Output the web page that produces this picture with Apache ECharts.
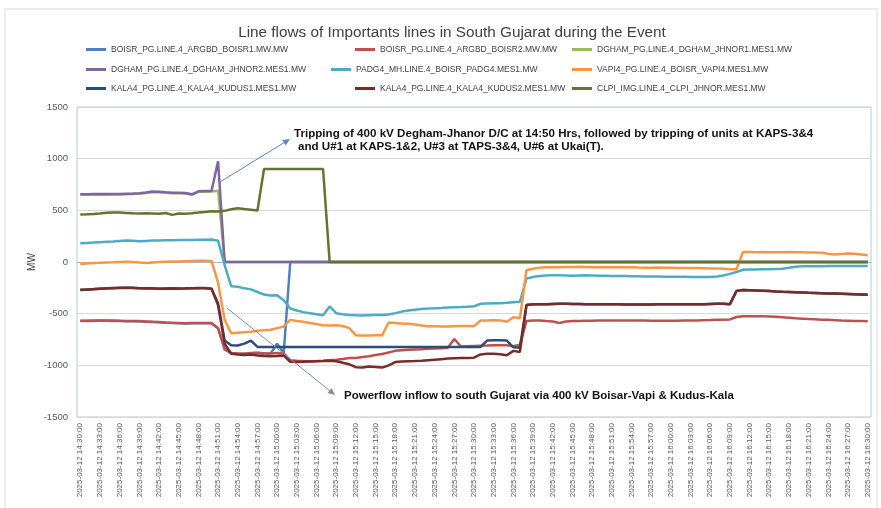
<!DOCTYPE html>
<html>
<head>
<meta charset="utf-8">
<script src="https://cdn.jsdelivr.net/npm/echarts@6/dist/echarts.min.js"></script>
<style>html,body{margin:0;padding:0;background:#fff}#c{width:881px;height:508px}</style>
</head>
<body>
<div id="c"></div>
<script>
// ---- categories (one per minute, 14:30 to 16:30) ----
const startHour = 14, startMinute = 30, minuteCount = 121;
const categories = [];
for (let i = 0; i < minuteCount; i++) {
  const t = startHour * 60 + startMinute + i;
  const h = Math.floor(t / 60), m = t % 60;
  categories.push('2025-03-12 ' + h + ':' + String(m).padStart(2, '0') + ':00');
}

const seriesNames = [
  'BOISR_PG.LINE.4_ARGBD_BOISR1.MW.MW',
  'BOISR_PG.LINE.4_ARGBD_BOISR2.MW.MW',
  'DGHAM_PG.LINE.4_DGHAM_JHNOR1.MES1.MW',
  'DGHAM_PG.LINE.4_DGHAM_JHNOR2.MES1.MW',
  'PADG4_MH.LINE.4_BOISR_PADG4.MES1.MW',
  'VAPI4_PG.LINE.4_BOISR_VAPI4.MES1.MW',
  'KALA4_PG.LINE.4_KALA4_KUDUS1.MES1.MW',
  'KALA4_PG.LINE.4_KALA4_KUDUS2.MES1.MW',
  'CLPI_IMG.LINE.4_CLPI_JHNOR.MES1.MW'
];

const boisr1 = [
  -572,-572,-570,-568,-568,-570,-572,-573,-574,-575,
  -578,-580,-583,-588,-590,-592,-594,-593,-592,-592,
  -592,-645,-845,-882,-886,-888,-882,-880,-884,-885,
  -790,-880,0,0,0,0,0,0,0,0,
  0,0,0,0,0,0,0,0,0,0,
  0,0,0,0,0,0,0,0,0,0,
  0,0,0,0,0,0,0,0,0,0,
  0,0,0,0,0,0,0,0,0,0,
  0,0,0,0,0,0,0,0,0,0,
  0,0,0,0,0,0,0,0,0,0,
  0,0,0,0,0,0,0,0,0,0,
  0,0,0,0,0,0,0,0,0,0,
  0
];
const boisr2 = [
  -568,-568,-566,-565,-565,-566,-568,-570,-570,-572,
  -575,-578,-580,-585,-588,-590,-592,-590,-590,-590,
  -590,-640,-840,-880,-885,-888,-880,-878,-885,-885,
  -880,-885,-950,-955,-958,-960,-958,-955,-950,-945,
  -938,-930,-928,-920,-912,-900,-890,-875,-860,-855,
  -850,-847,-845,-840,-838,-835,-830,-745,-818,-815,
  -812,-810,-808,-805,-805,-806,-815,-800,-570,-565,
  -565,-572,-575,-590,-575,-572,-570,-568,-568,-567,
  -566,-566,-565,-565,-566,-566,-567,-568,-568,-568,
  -568,-568,-567,-566,-565,-563,-562,-560,-558,-556,
  -532,-526,-525,-525,-526,-527,-530,-535,-540,-545,
  -548,-552,-555,-558,-560,-563,-566,-568,-570,-572,
  -574
];
const dgham1 = [
  650,650,652,653,652,654,653,655,657,660,
  667,676,675,669,665,666,663,650,679,681,
  683,690,0,0,0,0,0,0,0,0,
  0,0,0,0,0,0,0,0,0,0,
  0,0,0,0,0,0,0,0,0,0,
  0,0,0,0,0,0,0,0,0,0,
  0,0,0,0,0,0,0,0,0,0,
  0,0,0,0,0,0,0,0,0,0,
  0,0,0,0,0,0,0,0,0,0,
  0,0,0,0,0,0,0,0,0,0,
  0,0,0,0,0,0,0,0,0,0,
  0,0,0,0,0,0,0,0,0,0,
  0
];
const dgham2 = [
  656,655,657,658,657,659,658,660,662,665,
  672,682,680,674,670,671,668,655,684,686,
  688,975,0,0,0,0,0,0,0,0,
  0,0,0,0,0,0,0,0,0,0,
  0,0,0,0,0,0,0,0,0,0,
  0,0,0,0,0,0,0,0,0,0,
  0,0,0,0,0,0,0,0,0,0,
  0,0,0,0,0,0,0,0,0,0,
  0,0,0,0,0,0,0,0,0,0,
  0,0,0,0,0,0,0,0,0,0,
  0,0,0,0,0,0,0,0,0,0,
  0,0,0,0,0,0,0,0,0,0,
  0
];
const padg4 = [
  182,185,188,192,195,198,203,207,205,200,
  204,207,208,210,210,212,213,214,215,216,
  217,205,-30,-235,-240,-255,-265,-290,-315,-325,
  -322,-370,-450,-470,-485,-495,-505,-515,-430,-495,
  -505,-512,-516,-518,-516,-514,-512,-508,-495,-480,
  -470,-462,-455,-450,-448,-445,-440,-437,-435,-432,
  -428,-405,-402,-400,-398,-395,-390,-385,-160,-145,
  -135,-130,-128,-128,-130,-132,-130,-128,-130,-132,
  -133,-135,-135,-136,-138,-138,-140,-140,-140,-142,
  -142,-143,-143,-144,-145,-145,-145,-140,-130,-115,
  -97,-75,-72,-72,-70,-70,-68,-65,-55,-45,
  -42,-40,-40,-40,-39,-39,-38,-38,-38,-38,
  -38
];
const vapi4 = [
  -20,-15,-10,-8,-5,-3,0,2,0,-5,
  -10,-5,0,3,5,6,8,10,12,12,
  10,-200,-560,-690,-685,-680,-675,-665,-660,-655,
  -640,-625,-560,-570,-578,-590,-600,-612,-615,-613,
  -620,-640,-710,-712,-712,-710,-710,-585,-590,-595,
  -597,-605,-615,-622,-622,-624,-625,-622,-620,-620,
  -622,-566,-565,-563,-565,-578,-535,-545,-80,-65,
  -55,-52,-50,-50,-48,-48,-47,-48,-50,-50,
  -52,-52,-50,-50,-52,-54,-55,-55,-54,-55,
  -56,-58,-58,-57,-58,-60,-62,-64,-66,-70,
  -70,97,96,95,96,95,94,95,96,95,
  94,93,92,90,80,72,78,82,80,72,
  65
];
const kudus1 = [
  -270,-268,-264,-260,-257,-254,-252,-250,-252,-255,
  -257,-257,-260,-258,-256,-258,-257,-255,-254,-254,
  -260,-400,-760,-805,-808,-790,-760,-822,-822,-822,
  -822,-822,-822,-822,-822,-822,-822,-822,-822,-822,
  -822,-822,-822,-822,-822,-822,-822,-822,-822,-822,
  -822,-822,-822,-822,-822,-822,-822,-822,-822,-822,
  -822,-822,-760,-758,-758,-760,-825,-830,-415,-410,
  -408,-408,-406,-405,-405,-406,-407,-408,-408,-409,
  -410,-410,-410,-411,-412,-412,-412,-411,-410,-410,
  -410,-410,-410,-408,-408,-408,-406,-405,-405,-408,
  -280,-272,-274,-276,-278,-280,-285,-288,-290,-292,
  -295,-298,-300,-302,-304,-306,-308,-310,-312,-314,
  -316
];
const kudus2 = [
  -268,-265,-262,-258,-255,-252,-250,-248,-250,-253,
  -255,-255,-258,-256,-254,-256,-255,-253,-252,-252,
  -258,-420,-790,-888,-895,-900,-895,-905,-910,-912,
  -910,-905,-965,-968,-966,-962,-960,-958,-955,-960,
  -975,-990,-1018,-1020,-1012,-1015,-1022,-1000,-968,-962,
  -960,-958,-955,-950,-945,-940,-935,-932,-930,-928,
  -926,-895,-888,-887,-892,-903,-860,-870,-415,-410,
  -408,-408,-406,-405,-405,-406,-407,-408,-408,-409,
  -410,-410,-410,-411,-412,-412,-412,-411,-410,-410,
  -410,-410,-410,-408,-408,-408,-406,-405,-405,-408,
  -280,-272,-274,-276,-278,-280,-285,-288,-290,-292,
  -295,-298,-300,-302,-304,-306,-308,-310,-312,-314,
  -316
];
const clpi = [
  460,462,465,470,476,480,478,475,472,470,
  472,470,468,474,456,470,468,472,478,485,
  490,488,495,510,520,512,505,498,900,900,
  900,900,900,900,900,900,900,900,0,0,
  0,0,0,0,0,0,0,0,0,0,
  0,0,0,0,0,0,0,0,0,0,
  0,0,0,0,0,0,0,0,0,0,
  0,0,0,0,0,0,0,0,0,0,
  0,0,0,0,0,0,0,0,0,0,
  0,0,0,0,0,0,0,0,0,0,
  0,0,0,0,0,0,0,0,0,0,
  0,0,0,0,0,0,0,0,0,0,
  0
];

const yMin = -1500, yMax = 1500, yStep = 500;
const yAxisTitle = 'MW';
const seriesData = [boisr1, boisr2, dgham1, dgham2, padg4, vapi4, kudus1, kudus2, clpi];
const colors = ['#4F81BD','#C0504D','#9BBB59','#8064A2','#4BACC6','#F79646','#2C4D75','#772C2A','#5F7530'];

const titleText = 'Line flows of Importants lines in South Gujarat during the Event';
const note1a = 'Tripping of 400 kV Degham-Jhanor D/C at 14:50 Hrs, followed by tripping of units at KAPS-3&4';
const note1b = 'and U#1 at KAPS-1&2, U#3 at TAPS-3&4, U#6 at Ukai(T).';
const note2 = 'Powerflow inflow to south Gujarat via 400 kV Boisar-Vapi & Kudus-Kala';

const FONT = '"Liberation Sans", Arial, sans-serif';

// legend layout
const legendPos = [
  [86, 45], [355, 45], [572, 45],
  [86, 65], [331, 65], [572, 65],
  [86, 84], [355, 84], [572, 84]
];

function arrow(x1, y1, x2, y2, color) {
  const dx = x2 - x1, dy = y2 - y1, len = Math.sqrt(dx*dx + dy*dy);
  const ux = dx/len, uy = dy/len, px = -uy, py = ux;
  const L = 7, W = 3.2;
  const bx = x2 - ux*L, by = y2 - uy*L;
  return [
    {type:'line', shape:{x1:x1, y1:y1, x2:bx, y2:by}, style:{stroke:color, lineWidth:1}, z:100},
    {type:'polygon', shape:{points:[[x2,y2],[bx+px*W,by+py*W],[bx-px*W,by-py*W]]}, style:{fill:color}, z:100}
  ];
}

const chart = echarts.init(document.getElementById('c'), null, {renderer:'canvas'});
const option = {
  backgroundColor: '#ffffff',
  animation: false,
  color: colors,
  title: {
    text: titleText, left: 447, top: 20, textAlign: 'center',
    textStyle: {fontFamily: FONT, fontSize: 15.3, fontWeight: 'normal', color: '#404040'}
  },
  legend: seriesNames.map((n, k) => ({
    data: [n], left: legendPos[k][0], top: legendPos[k][1], padding: 0,
    icon: 'rect', itemWidth: 20, itemHeight: 3, itemGap: 0,
    textStyle: {fontFamily: FONT, fontSize: 8.5, color: '#404040'}
  })),
  grid: {left: 77, right: 10, top: 107, bottom: 91, show: true, borderColor: '#B7C6D8', borderWidth: 1},
  xAxis: {
    type: 'category', data: categories, boundaryGap: true,
    axisLine: {lineStyle: {color: '#A9B9CD'}},
    axisTick: {show: false},
    axisLabel: {interval: 2, rotate: 90, fontSize: 8, color: '#595959', fontFamily: FONT, margin: 6}
  },
  yAxis: {
    type: 'value', min: yMin, max: yMax, interval: yStep,
    axisLine: {show: false}, axisTick: {show: false},
    axisLabel: {fontSize: 9.5, color: '#595959', fontFamily: FONT, margin: 9, formatter: v => String(v)},
    splitLine: {lineStyle: {color: '#D9D9D9', width: 1}}
  },
  series: seriesNames.map((n, k) => ({
    name: n, type: 'line', data: seriesData[k], symbol: 'none', showSymbol: false,
    lineStyle: {width: 2.5, color: colors[k]}, itemStyle: {color: colors[k]}, z: 2 + k
  })),
  graphic: [
    {type:'rect', shape:{x:5, y:9, width:872, height:520}, style:{fill:'none', stroke:'#D9D9D9', lineWidth:1}, silent:true, z:0},
    {type:'text', x: 32, y: 262, rotation: Math.PI / 2, z: 101,
      style:{text: yAxisTitle, font: '10px ' + FONT, fill:'#404040', align:'center', verticalAlign:'middle'}},
    ...arrow(220, 182, 290, 139, '#5B86C2'),
    ...arrow(227, 308, 335, 395, '#7D8FAE'),
    {type:'text', left: 294, top: 128, z:101, style:{text: note1a, font: 'bold 11.6px ' + FONT, fill:'#111111'}},
    {type:'text', left: 298, top: 141, z:101, style:{text: note1b, font: 'bold 11.6px ' + FONT, fill:'#111111'}},
    {type:'text', left: 344, top: 390, z:101, style:{text: note2, font: 'bold 11.5px ' + FONT, fill:'#111111'}}
  ]
};
chart.setOption(option);
</script>
</body>
</html>
